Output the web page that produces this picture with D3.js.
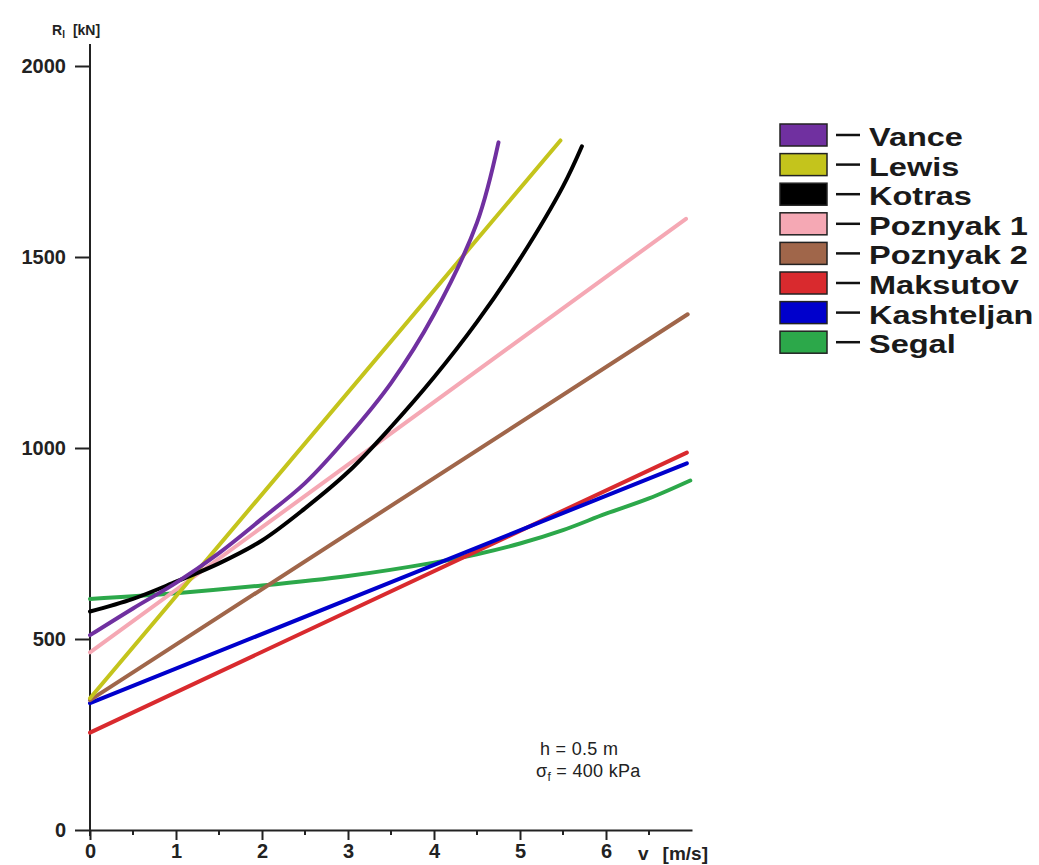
<!DOCTYPE html>
<html lang="en">
<head>
    <meta charset="UTF-8">
    <title>Ice resistance vs speed</title>
    <script src="https://d3js.org/d3.v7.min.js"></script>
    <style>
        body { margin: 0; background: #fff; }
        .axis text { font-family: "Liberation Sans", Arial, sans-serif; font-size: 20px; font-weight: bold; fill: #222; }
        .axis path, .axis line { stroke: #222; stroke-width: 2; }
        .legend text { font-family: "Liberation Sans", Arial, sans-serif; font-weight: bold; fill: #1a1a1a; }
        .note { font-family: "Liberation Sans", Arial, sans-serif; fill: #222; }
    </style>
</head>
<body>
<div id="chart"></div>
<script>
// series names and colours (legend order)
var names  = ["Vance", "Lewis", "Kotras", "Poznyak 1", "Poznyak 2", "Maksutov", "Kashteljan", "Segal"];
var colors = ["#7030a0", "#c4c41c", "#000000", "#f5a8b4", "#a0664a", "#d92a2e", "#0000cc", "#2ca84a"];

// values: [v (m/s), R (kN)]
var vance      = [[0, 510], [0.5, 580], [1, 647], [1.5, 725], [2, 815], [2.5, 908], [3, 1030], [3.5, 1170], [4, 1350], [4.5, 1590], [4.75, 1800]];
var lewis      = [[0, 345], [5.47, 1805]];
var kotras     = [[0, 572], [0.5, 605], [1, 650], [1.5, 698], [2, 758], [2.5, 842], [3, 937], [3.5, 1055], [4, 1185], [4.5, 1330], [5, 1495], [5.5, 1685], [5.72, 1790]];
var poznyak1   = [[0, 465], [6.93, 1600]];
var poznyak2   = [[0, 340], [6.95, 1350]];
var maksutov   = [[0, 255], [6.94, 988]];
var kashteljan = [[0, 332], [6.94, 960]];
var segal      = [[0, 605], [1, 620], [2, 640], [3, 665], [4, 700], [4.5, 722], [5, 750], [5.5, 785], [6, 828], [6.5, 868], [6.98, 915]];

var series = [vance, lewis, kotras, poznyak1, poznyak2, maksutov, kashteljan, segal];
var drawOrder = [7, 5, 6, 4, 3, 1, 2, 0];

var yTicks = [0, 500, 1000, 1500, 2000];
var xTicks = [0, 1, 2, 3, 4, 5, 6];
var xMinor = [0.5, 1.5, 2.5, 3.5, 4.5, 5.5, 6.5];

var width = 1039, height = 865;

var svg = d3.select("#chart")
    .append("svg")
    .attr("width", width)
    .attr("height", height);

var x = d3.scaleLinear().domain([0, 7]).range([90, 692]);
var y = d3.scaleLinear().domain([0, 2000]).range([830, 66]);

// y axis
var gy = svg.append("g")
    .attr("class", "axis")
    .attr("transform", "translate(" + x(0) + ",0)")
    .call(d3.axisLeft(y).tickValues(yTicks).tickSize(15).tickSizeOuter(0).tickPadding(9).tickFormat(d3.format("d")));
gy.select(".domain").remove();
gy.append("line")
    .attr("x1", 0).attr("x2", 0)
    .attr("y1", 44).attr("y2", 836);

// x axis
var gx = svg.append("g")
    .attr("class", "axis")
    .attr("transform", "translate(0," + y(0) + ")")
    .call(d3.axisBottom(x).tickValues(xTicks).tickSize(10).tickSizeOuter(0).tickPadding(2).tickFormat(d3.format("d")));
gx.selectAll(".tick text").attr("dy", "0.8em");
gx.selectAll(".minor")
    .data(xMinor)
    .enter()
    .append("line")
    .attr("x1", function(d) { return x(d); })
    .attr("x2", function(d) { return x(d); })
    .attr("y1", 0).attr("y2", 5);

// axis titles
svg.append("text")
    .attr("class", "note")
    .attr("x", 52).attr("y", 35)
    .style("font-size", "14px")
    .style("font-weight", "bold")
    .html('R<tspan dy="3" font-size="10">l</tspan><tspan dy="-3" dx="8">[kN]</tspan>');

svg.append("text")
    .attr("class", "note")
    .attr("x", 638).attr("y", 860)
    .style("font-size", "19px")
    .style("font-weight", "bold")
    .html('v<tspan dx="14">[m/s]</tspan>');

// curves
var line = d3.line()
    .x(function(d) { return x(d[0]); })
    .y(function(d) { return y(d[1]); })
    .curve(d3.curveCatmullRom.alpha(0.5));

svg.selectAll(".curve")
    .data(drawOrder)
    .enter()
    .append("path")
    .attr("class", "curve")
    .attr("d", function(i) { return line(series[i]); })
    .attr("fill", "none")
    .attr("stroke", function(i) { return colors[i]; })
    .attr("stroke-width", 4)
    .attr("stroke-linecap", "round");

// note
svg.append("text").attr("class", "note").attr("x", 540).attr("y", 755)
    .style("font-size", "18px").style("letter-spacing", "0.3px")
    .text("h = 0.5 m");
svg.append("text").attr("class", "note").attr("x", 536).attr("y", 777)
    .style("font-size", "18px").style("letter-spacing", "0.3px")
    .html('σ<tspan dy="4" font-size="12">f</tspan><tspan dy="-4"> = 400 kPa</tspan>');

// legend
var legend = svg.append("g").attr("class", "legend");
var row = legend.selectAll("g")
    .data(names)
    .enter()
    .append("g")
    .attr("transform", function(d, i) { return "translate(780," + (124 + i * 29.6) + ")"; });

row.append("rect")
    .attr("width", 47).attr("height", 22)
    .attr("fill", function(d, i) { return colors[i]; })
    .attr("stroke", "#222")
    .attr("stroke-width", 1.5);

row.append("line")
    .attr("x1", 56).attr("x2", 80)
    .attr("y1", 11).attr("y2", 11)
    .attr("stroke", "#111")
    .attr("stroke-width", 2.5);

row.append("text")
    .attr("transform", "translate(89,22) scale(1.25,1)")
    .style("font-size", "26px")
    .text(function(d) { return d; });
</script>
</body>
</html>
